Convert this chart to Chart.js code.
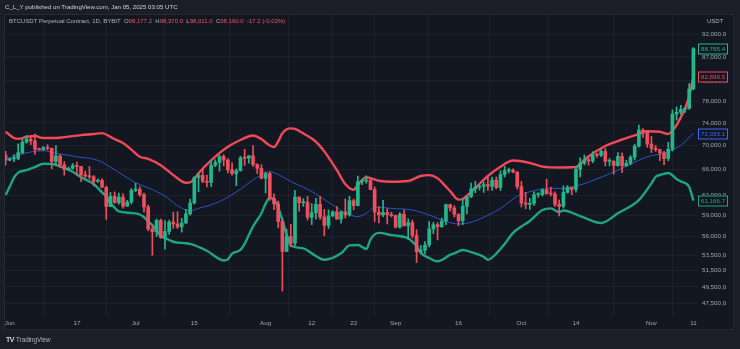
<!DOCTYPE html>
<html>
<head>
<meta charset="utf-8">
<script src="https://cdn.jsdelivr.net/npm/chart.js@4.4.1/dist/chart.umd.min.js"></script>
<style>
  html,body{margin:0;padding:0;background:#1b1e27;width:740px;height:349px;overflow:hidden;font-family:"Liberation Sans",Arial,sans-serif;}
  #pane{position:absolute;left:4px;top:14px;width:730px;height:316px;background:#131722;border:1px solid #262a35;box-sizing:border-box;}
  #c{position:absolute;left:0;top:0;}
  .t{position:absolute;white-space:nowrap;}
  #hdr{left:5px;top:3px;font-size:6.1px;color:#d1d4dc;}
  #leg{left:9px;top:18px;font-size:6px;color:#b2b5be;}
  #leg .r{color:#f0525f;}
  #usdt{left:707px;top:18px;font-size:6px;color:#b2b5be;}
  #logo{left:6px;top:336px;font-size:6.3px;color:#b2b5be;}
  #logo b{font-size:7px;color:#d1d4dc;letter-spacing:-0.5px;margin-right:2px;}
</style>
</head>
<body>
<div id="pane"></div>
<canvas id="c" width="740" height="349"></canvas>
<div class="t" id="hdr">C_L_Y published on TradingView.com, Jan 05, 2025 03:05 UTC</div>
<div class="t" id="leg">BTCUSDT Perpetual Contract, 1D, BYBIT&nbsp; O<span class="r">98,177.2</span>&nbsp; H<span class="r">98,370.0</span>&nbsp; L<span class="r">98,011.0</span>&nbsp; C<span class="r">98,160.0</span>&nbsp; <span class="r">-17.2 (-0.02%)</span></div>
<div class="t" id="usdt">USDT</div>
<div class="t" id="logo"><b>TV</b>TradingView</div>
<script>
// Day index: 0 = Jun 1 2024; candles start May 31 (day -1) and end Nov 11 (day 163)
const firstDay = -1;
const open = [68350,67530,67760,67820,68800,70570,71100,70800,69350,69310,69650,69530,67320,68240,66750,66010,66190,66640,66490,65150,64960,64830,64100,64250,63180,60280,61800,60860,61680,60330,60950,
62700,62880,62060,60200,57050,56650,58250,55860,56700,58030,57750,57350,57900,59200,60800,64750,65050,64100,63950,66700,67150,68150,67550,65950,65350,65800,67900,67850,68250,66800,66200,
64600,65350,61500,60700,58100,54000,56000,55100,61700,60850,60900,58700,59350,60600,58750,57550,58900,59500,58450,59500,59050,61150,60400,64050,64150,64250,62850,59450,59050,59400,59100,
58950,57300,59150,57500,57950,56150,53950,54150,54850,57050,57650,57350,58150,60550,60050,59150,58200,60300,61750,62950,63200,63350,63600,63350,64300,63150,65200,65800,65900,65600,
63300,60800,60600,60750,62050,62050,62800,62200,62150,60600,60300,62400,63200,62850,66050,67050,67600,67400,68400,68350,69000,67350,67350,66650,68150,66600,67000,68000,69900,72700,72350,
70250,69500,69300,68750,67800,69350,75600,75950,76500,76650,80400];
const high = [69000,67860,68450,70290,71060,71750,71650,71990,69580,69850,70150,69560,69990,68450,67300,66400,66990,67200,66500,65740,66480,65050,64520,64500,63370,62380,62480,62300,62200,61200,63000,
63800,63280,62280,60500,57550,58450,58450,58250,58300,59450,59500,58550,59850,61400,64850,65350,66100,65100,67400,67600,68350,68450,67800,67100,66100,68200,69350,68300,70000,66950,66800,
65600,65600,62200,61100,58300,57000,57700,62700,61700,61450,61800,60700,61500,61800,59850,59800,59650,60250,59600,61400,61800,61400,64950,64500,65000,64500,63250,60250,61200,59950,59450,
59050,59400,59800,58500,58300,56950,54800,55300,58100,58000,57950,58600,60650,60650,60400,59200,61300,61800,63850,64100,63550,64000,64800,64800,64800,65800,66500,66250,66100,65650,
64100,62400,61500,62500,62350,62950,64450,63200,62500,61250,63400,63450,63250,66500,67900,68400,67900,68950,68700,69400,69500,67800,67450,68800,68750,67500,68300,70250,73600,72950,72650,
71600,70000,69400,69000,70550,76400,76950,77250,76800,81500,89000];
const low = [66700,67440,67300,67600,68560,70400,70150,68500,69200,69150,69230,66100,66900,66300,65080,65880,66050,65100,64050,64700,64500,63380,63940,63200,58400,60250,60760,60600,60030,60300,60650,
62500,61800,59450,56800,53500,56000,55750,54300,56300,57150,57100,56600,57800,59000,60650,62500,63900,63250,63300,66450,65750,66600,65450,65100,63450,65750,66650,67050,66500,65350,64500,
62300,61200,59800,57200,49000,53950,54600,54750,59600,60300,58300,57650,58450,58400,56100,57100,58800,58400,57850,58600,58850,59800,60350,63600,63800,62800,58100,57900,58800,57750,58750,
57200,57150,57450,55600,55800,52550,53750,53650,54600,56400,55550,57300,57650,59600,58750,57500,57650,59200,61600,62350,62750,62400,62700,62700,62950,62700,64800,65450,65450,62900,
60200,59950,59850,60450,61650,61850,62150,61850,60250,58900,60050,62300,62050,62450,64800,66750,66700,67100,68000,68100,66600,66600,65250,66500,65500,66500,66750,67550,69700,71400,69700,
68800,69000,67450,66800,67450,69050,74500,75550,75900,76500,80250];
const close = [67530,67760,67820,68800,70570,71100,70800,69350,69310,69650,69530,67320,68240,66750,66010,66190,66640,66490,65150,64960,64830,64100,64250,63180,60280,61800,60860,61680,60330,60950,62700,
62880,62060,60200,57050,56650,58250,55860,56700,58030,57750,57350,57900,59200,60800,64750,65050,64100,63950,66700,67150,68150,67550,65950,65350,65800,67900,67850,68250,66800,66200,64600,
65350,61500,60700,58100,54000,56000,55100,61700,60850,60900,58700,59350,60600,58750,57550,58900,59500,58450,59500,59050,61150,60400,64050,64150,64250,62850,59450,59050,59400,59100,58950,
57300,59150,57500,57950,56150,53950,54150,54850,57050,57650,57350,58150,60550,60050,59150,58200,60300,61750,62950,63200,63350,63600,63350,64300,63150,65200,65800,65900,65600,63300,
60800,60600,60750,62050,62050,62800,62200,62150,60600,60300,62400,63200,62850,66050,67050,67600,67400,68400,68350,69000,67350,67350,66650,68150,66600,67000,68000,69900,72700,72350,70250,
69500,69300,68750,67800,69350,75600,75950,76500,76650,80400,88765.4];

// Bollinger Bands: [day, value]
const bbUpper = [[-1,72400],[1,71300],[2,71150],[4,71500],[6,71650],[8,71300],[11,71300],[14,71550],[17,71800],[20,72000],[22,72150],[24,71500],[25,71100],[27,70450],[29,69300],[31,68100],[33,67750],[36,66700],[39,65100],[42,63900],[43,63950],[44,64500],[45,65400],[48,67500],[52,69800],[55,70950],[58,71750],[60,71100],[62,70000],[63,69750],[64,70700],[65,72150],[67,73000],[68,72900],[70,72100],[73,70650],[75,69000],[76,68000],[78,65900],[80,63700],[82,62800],[83,63600],[84,64300],[85,64750],[88,64200],[91,64050],[95,64170],[98,64960],[100,65100],[102,64600],[104,63300],[105,62600],[107,61300],[108,61400],[109,61900],[111,63070],[114,64960],[117,66460],[120,67470],[124,67060],[127,66460],[131,66320],[135,66400],[136,66900],[138,68140],[142,69920],[146,71040],[150,72000],[152,72500],[155,72400],[157,72000],[158,72600],[159,73600],[160,75000],[161,76600],[162,79000],[163,82899.5]];
const bbBasis = [[-1,67700],[2,68400],[5,68900],[8,69100],[11,68700],[16,68100],[21,67500],[24,66400],[27,65100],[30,63900],[33,63100],[37,61850],[40,60400],[43,59650],[45,60000],[50,61000],[55,62900],[58,64330],[62,65650],[64,65200],[67,64100],[72,62550],[77,60500],[80,59350],[83,58800],[85,59300],[87,60200],[91,60000],[96,59760],[100,59040],[104,58100],[107,57750],[110,58000],[113,58700],[117,60000],[121,61800],[124,62500],[129,63030],[132,63000],[136,63540],[140,64500],[145,65900],[149,67200],[152,68100],[156,68700],[159,69600],[161,70600],[162,71500],[163,72033.1]];
const bbLower = [[-1,62000],[0,63300],[1,64700],[2,65500],[4,65900],[6,66400],[8,66950],[10,66900],[13,66240],[15,65650],[17,64750],[20,63700],[22,62400],[23,61740],[24,60750],[25,60100],[26,59550],[29,59330],[31,59110],[32,58750],[33,58100],[34,57600],[35,56800],[36,56100],[38,55530],[39,55290],[42,55080],[43,55000],[47,54080],[51,52810],[52,52950],[53,53700],[55,54200],[56,55000],[57,56200],[58,57400],[60,59300],[61,60700],[62,61550],[63,61300],[64,60100],[65,58300],[66,56300],[67,54800],[70,54400],[72,53740],[75,52900],[79,53740],[81,54800],[83,54850],[84,54600],[85,54300],[86,55600],[87,56300],[88,56500],[91,56200],[95,55760],[96,55300],[97,54700],[98,53800],[100,53130],[102,52700],[105,53530],[106,53740],[108,54190],[110,53900],[113,53300],[114,52900],[116,53700],[118,55000],[120,56500],[122,57400],[124,58170],[127,59760],[129,60010],[131,59470],[132,59700],[136,58890],[141,57890],[145,59290],[150,61240],[153,63800],[154,64840],[155,65120],[157,65440],[159,64500],[160,64100],[162,63230],[163,61166.7]];

const xTickDays = [0,16,30,44,61,72,82,92,107,122,135,153,163];
const xTickLabels = ['Jun','17','Jul','15','Aug','12','22','Sep','16','Oct','14','Nov','11'];
const yTicks = [92000,87000,82000,78000,74000,70000,66000,62000,59000,56000,53500,51500,49500,47500];

const UP = '#22b88c', DOWN = '#f0505e';
const C_UPPER = '#f04a59', C_LOWER = '#1fa585', C_MID = '#2d5bd6';
const FONT = {family:'"Liberation Sans", Arial, sans-serif', size:6.2};

const wicks = [], bodies = [], cols = [];
for (let i = 0; i < close.length; i++) {
  const d = firstDay + i;
  wicks.push({x:d, y:[low[i], high[i]]});
  bodies.push({x:d, y:[Math.min(open[i],close[i]), Math.max(open[i],close[i])]});
  cols.push(close[i] >= open[i] ? UP : DOWN);
}
const toXY = a => a.map(p => ({x:p[0], y:p[1]}));
const fmt = v => Number(v).toLocaleString('en-US',{minimumFractionDigits:1, maximumFractionDigits:1});

const priceLabels = {
  id:'priceLabels',
  afterDraw(chart){
    const ctx = chart.ctx, ys = chart.scales.y, ca = chart.chartArea;
    const items = [
      [close[close.length-1], UP],
      [bbUpper[bbUpper.length-1][1], C_UPPER],
      [bbBasis[bbBasis.length-1][1], '#3d6cf0'],
      [bbLower[bbLower.length-1][1], C_LOWER]
    ];
    ctx.save();
    ctx.font = '6.2px "Liberation Sans", Arial, sans-serif';
    ctx.textBaseline = 'middle';
    items.forEach(([v,c]) => {
      const y = Math.round(ys.getPixelForValue(v));
      const x = ca.right;
      ctx.fillStyle = '#131722';
      ctx.fillRect(x, y-5.5, 30, 11);
      ctx.strokeStyle = c; ctx.lineWidth = 1;
      ctx.strokeRect(x+0.5, y-5, 29, 10);
      ctx.fillStyle = c;
      ctx.fillText(fmt(v), x+3, y+0.5);
    });
    ctx.restore();
  }
};

new Chart(document.getElementById('c'), {
  type:'bar',
  data:{
    datasets:[
      {type:'line', data:toXY(bbUpper), borderColor:C_UPPER, borderWidth:2.4, pointRadius:0, cubicInterpolationMode:'monotone', order:3},
      {type:'line', data:toXY(bbLower), borderColor:C_LOWER, borderWidth:2.4, pointRadius:0, cubicInterpolationMode:'monotone', order:3},
      {type:'line', data:toXY(bbBasis), borderColor:C_MID, borderWidth:0.9, pointRadius:0, cubicInterpolationMode:'monotone', order:3},
      {type:'bar', data:wicks, backgroundColor:cols, barThickness:1, grouped:false, order:1, minBarLength:1},
      {type:'bar', data:bodies, backgroundColor:cols, barThickness:3, grouped:false, order:0, minBarLength:1}
    ]
  },
  options:{
    responsive:false, animation:false, events:[],
    layout:{padding:{left:5, right:6, top:15, bottom:18}},
    plugins:{legend:{display:false}, tooltip:{enabled:false}},
    scales:{
      x:{type:'linear', min:-1.14, max:164.1, offset:false,
         grid:{color:'rgba(255,255,255,0.045)', drawTicks:false, lineWidth:1},
         border:{display:false},
         afterBuildTicks:s=>{s.ticks = xTickDays.map(v=>({value:v}));},
         afterFit:s=>{s.height = 15;},
         ticks:{autoSkip:false, maxRotation:0, padding:4, color:'#a3a6af', font:FONT,
                callback:v=>{const k = xTickDays.indexOf(v); return k>=0 ? xTickLabels[k] : '';}}},
      y:{type:'logarithmic', position:'right', min:46090, max:96390,
         grid:{color:'rgba(255,255,255,0.045)', drawTicks:false, lineWidth:1},
         border:{display:false},
         afterBuildTicks:s=>{s.ticks = yTicks.map(v=>({value:v}));},
         afterFit:s=>{s.width = 36;},
         ticks:{autoSkip:false, padding:4, color:'#a3a6af', font:FONT, callback:v=>fmt(v)}}
    }
  },
  plugins:[priceLabels]
});
</script>
</body>
</html>
